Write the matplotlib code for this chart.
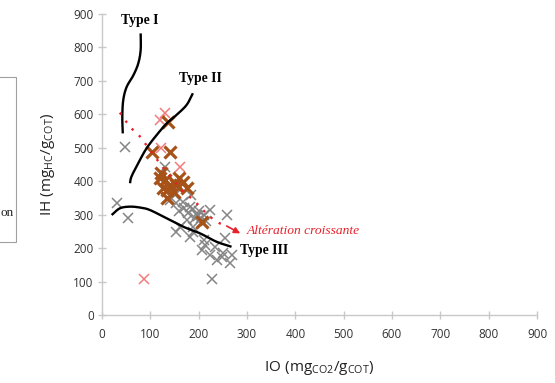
import matplotlib
matplotlib.use("Agg")
import matplotlib.pyplot as plt
import numpy as np
from matplotlib.patches import Rectangle

# ---- data ----
grey_io = [48, 30, 54, 227, 130, 161, 151, 185, 168, 182, 223, 210, 192, 258, 175, 189, 254, 182,
           210, 234, 206, 161, 213, 223, 251, 265, 237, 196, 200, 205, 215, 170, 160, 268, 248, 154,
           189, 154, 140, 178, 188, 198]
grey_ih = [503, 334, 289, 108, 443, 384, 359, 359, 339, 324, 314, 299, 289, 299, 284, 264, 229, 234,
           224, 204, 194, 264, 209, 179, 184, 154, 164, 300, 310, 290, 280, 320, 310, 179, 174, 249,
           249, 334, 345, 305, 318, 295]

brown_io = [137, 103, 141, 123, 120, 130, 168, 154, 127, 148, 141, 134, 206, 160, 175, 135, 150]
brown_ih = [576, 488, 488, 424, 409, 404, 399, 389, 379, 369, 389, 349, 279, 410, 380, 375, 395]

pink_io = [130, 120, 123, 161, 86, 152]
pink_ih = [603, 583, 498, 443, 107, 395]

type1_io = [80, 80, 75, 65, 51, 44, 42, 43]
type1_ih = [842, 792, 752, 717, 682, 643, 593, 543]
type2_io = [188, 175, 154, 134, 113, 92, 75, 61, 58]
type2_ih = [663, 628, 598, 573, 538, 498, 454, 414, 394]
type3_io = [20, 37, 58, 80, 99, 134, 168, 203, 237, 268]
type3_ih = [299, 319, 324, 321, 314, 289, 264, 244, 219, 204]
alter_io = [37, 58, 79, 89, 130, 165, 189, 216, 237, 258, 286]
alter_ih = [605, 563, 533, 513, 434, 374, 344, 304, 279, 266, 244]

xticks = list(range(0, 1000, 100))
yticks = list(range(0, 1000, 100))


def smooth(xs, ys, n=20):
    """Catmull-Rom curve through the given points (drawing only)."""
    p = np.column_stack([xs, ys]).astype(float)
    p = np.vstack([2 * p[0] - p[1], p, 2 * p[-1] - p[-2]])
    out = []
    t = np.linspace(0, 1, n, endpoint=False)[:, None]
    for i in range(1, len(p) - 2):
        p0, p1, p2, p3 = p[i - 1], p[i], p[i + 1], p[i + 2]
        seg = 0.5 * ((2 * p1) + (-p0 + p2) * t + (2 * p0 - 5 * p1 + 4 * p2 - p3) * t ** 2
                     + (-p0 + 3 * p1 - 3 * p2 + p3) * t ** 3)
        out.append(seg)
    out.append(p[-2][None, :])
    out = np.vstack(out)
    return out[:, 0], out[:, 1]


# ---- figure ----
plt.rcParams['mathtext.fontset'] = 'custom'
plt.rcParams['mathtext.rm'] = 'Open Sans'
plt.rcParams['mathtext.it'] = 'Open Sans:italic'

fig = plt.figure(figsize=(5.55, 3.83), dpi=100)
ax = fig.add_axes([102/555, 1-315/383, 435/555, 301/383])

ax.set_xlim(0, 900)
ax.set_ylim(0, 900)
ax.set_xticks(xticks)
ax.set_yticks(yticks)
for s in ['top', 'right']:
    ax.spines[s].set_visible(False)
for s in ['left', 'bottom']:
    ax.spines[s].set_color('#c8c8c8')
    ax.spines[s].set_linewidth(1.0)
ax.tick_params(direction='inout', length=6, color='#c8c8c8', width=1.0,
               labelsize=8.5, labelcolor='#333333')
for lab in ax.get_xticklabels() + ax.get_yticklabels():
    lab.set_family('Open Sans')
ax.tick_params(axis='x', pad=6)
ax.tick_params(axis='y', pad=3)

ax.set_xlabel(r'$\mathrm{IO\ (mg_{CO2}/g_{COT})}$', fontsize=11, color='#222222', labelpad=13)
ax.set_ylabel(r'$\mathrm{IH\ (mg_{HC}/g_{COT})}$', fontsize=11, color='#222222', labelpad=12)

ax.plot(grey_io, grey_ih, linestyle='none', marker='x', markersize=7, mew=1.1, color='#858585', zorder=3)
ax.plot(pink_io, pink_ih, linestyle='none', marker='x', markersize=7.5, mew=1.1, color='#f07c7c', zorder=3)
ax.plot(brown_io, brown_ih, linestyle='none', marker='x', markersize=8.5, mew=2.3, color='#a65219', zorder=4)

for xs, ys in [(type1_io, type1_ih), (type2_io, type2_ih), (type3_io, type3_ih)]:
    sx, sy = smooth(xs, ys)
    ax.plot(sx, sy, color='black', lw=1.7, zorder=5, solid_capstyle='butt')

ax_, ay_ = smooth(alter_io[:-1], alter_ih[:-1])
ax.plot(ax_, ay_, color='#e8202a', lw=1.7, linestyle=(0, (1, 3.2)), zorder=6)
ax.annotate('', xy=(alter_io[-1], alter_ih[-1]), xytext=(alter_io[-2], alter_ih[-2]),
            arrowprops=dict(arrowstyle='-|>', color='#e8202a', lw=1.2, mutation_scale=9,
                            shrinkA=0, shrinkB=0), zorder=6)

serif = 'Liberation Serif'
ax.text(79, 880, 'Type I', fontsize=9.8, fontweight='bold', family=serif, ha='center', va='center')
ax.text(204, 706, 'Type II', fontsize=9.8, fontweight='bold', family=serif, ha='center', va='center')
ax.text(335, 192, 'Type III', fontsize=9.8, fontweight='bold', family=serif, ha='center', va='center')
ax.text(299, 250, 'Altération croissante', fontsize=9.7, style='italic', family=serif,
        color='#e8202a', ha='left', va='center')

# partially visible legend box at left
fig.patches.append(Rectangle((-5/555, 1-242/383), 21/555, 165/383, transform=fig.transFigure,
                             fill=False, edgecolor='#a0a0a0', lw=0.8))
fig.text(14/555, 1-213/383, 'on', fontsize=9.5, family=serif, ha='right', va='center', color='#222222')

fig.savefig('out.png', dpi=100)
